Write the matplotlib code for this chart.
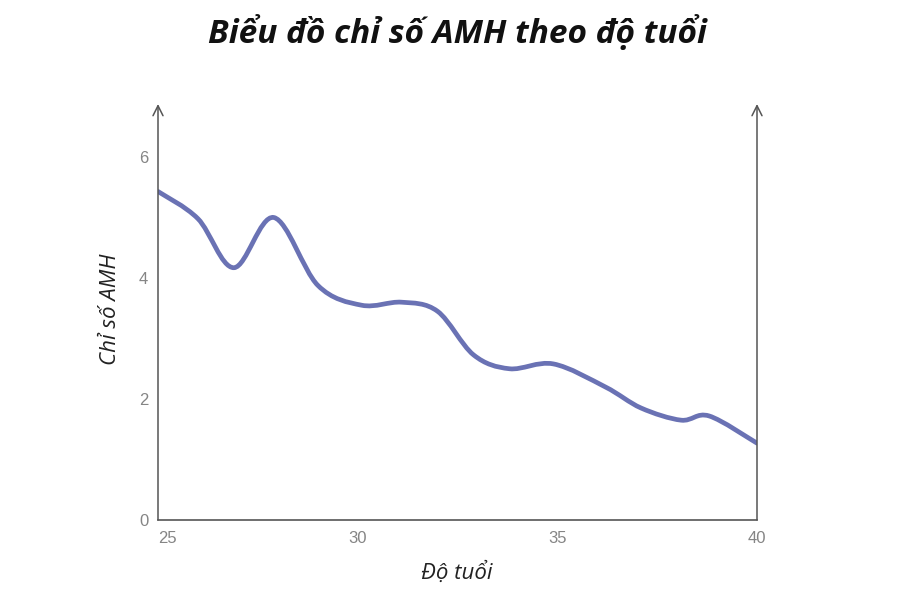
import numpy as np
import matplotlib
matplotlib.use('Agg')
import matplotlib.pyplot as plt
from matplotlib.path import Path
from matplotlib.patches import PathPatch

# AMH values (age, AMH)
ages = [25, 26, 26.9, 27.9, 29, 30.1, 31.1, 32, 32.9, 33.8, 34.9, 36.2, 37.1, 38.1, 38.8, 40]
amh = [5.43, 4.98, 4.17, 5.0, 3.88, 3.55, 3.6, 3.45, 2.73, 2.5, 2.58, 2.2, 1.85, 1.65, 1.72, 1.27]
xticks = [25, 30, 35, 40]
yticks = [0, 2, 4, 6]

title = 'Biểu đồ chỉ số AMH theo độ tuổi'
xlabel = 'Độ tuổi'
ylabel = 'Chỉ số AMH'

lineColor = '#6a72b4'
axisColor = '#555555'
tickColor = '#858585'

fig = plt.figure(figsize=(9, 6), dpi=100)
ax = fig.add_axes([158/900, 80/600, 599/900, 416/600])
ax.set_xlim(25, 40)
ax.set_ylim(0, 6.876)

# smooth curve through the points (Catmull-Rom turned into Bezier segments)
pts = np.column_stack([ages, amh])
verts = [pts[0]]
codes = [Path.MOVETO]
for i in range(len(pts) - 1):
    p0 = pts[max(i - 1, 0)]
    p1 = pts[i]
    p2 = pts[i + 1]
    p3 = pts[min(i + 2, len(pts) - 1)]
    c1 = p1 + (p2 - p0) / 6.0
    c2 = p2 - (p3 - p1) / 6.0
    verts += [c1, c2, p2]
    codes += [Path.CURVE4] * 3
curve = PathPatch(Path(verts, codes), facecolor='none', edgecolor=lineColor,
                  lw=3.4, capstyle='round', joinstyle='round', transform=ax.transData)
ax.add_patch(curve)

for side in ['top', 'left', 'right']:
    ax.spines[side].set_visible(False)
ax.spines['bottom'].set_color(axisColor)
ax.spines['bottom'].set_linewidth(1.2)

# vertical axes with open arrow heads
for xf in [0, 1]:
    ax.annotate('', xy=(xf, 1.0), xytext=(xf, 0), xycoords='axes fraction',
                arrowprops=dict(arrowstyle='->', color=axisColor, lw=1.1,
                                mutation_scale=18, shrinkA=0, shrinkB=0))

ax.set_xticks(xticks)
ax.set_yticks(yticks)
ax.tick_params(length=0, colors=tickColor, labelsize=12)
ax.tick_params(axis='x', pad=8)
ax.tick_params(axis='y', pad=7)
for lab in ax.get_xticklabels() + ax.get_yticklabels():
    lab.set_family('Liberation Sans')
ax.get_xticklabels()[0].set_ha('left')

fig.text(457/900, 1 - 33/600, title, ha='center', va='center', fontsize=24,
         family='Open Sans', weight='bold', style='italic', color='#111111')
fig.text(457/900, 1 - 573/600, xlabel, ha='center', va='center', fontsize=16,
         family='Open Sans', style='italic', color='#222222')
fig.text(111/900, 1 - 309/600, ylabel, ha='center', va='center', fontsize=16,
         family='Open Sans', style='italic', color='#222222', rotation=90)

fig.savefig('out.png', dpi=100)
